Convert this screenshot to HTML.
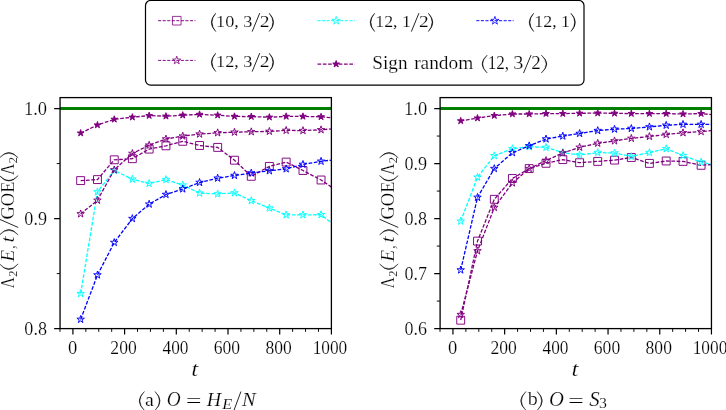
<!DOCTYPE html>
<html><head><meta charset="utf-8"><title>plot</title>
<style>
html,body{margin:0;padding:0;background:#fff;}
body{width:726px;height:410px;overflow:hidden;font-family:"Liberation Serif",serif;}
svg{display:block;position:absolute;left:0;top:0;mix-blend-mode:multiply;}
text{font-family:"Liberation Serif",serif;fill:#000;stroke:#fff;stroke-width:1.0;}
.i{font-style:italic;}
</style></head><body>
<svg width="726" height="410" viewBox="0 0 726 410">
<rect x="145.5" y="0.5" width="438.5" height="84.65" rx="5.1" ry="5.1" fill="#fff" stroke="#000" stroke-width="1.2"/>
<path d="M158.1 20.7H195.4" stroke="#800080" stroke-width="0.95" stroke-dasharray="3.1 1.45" fill="none"/><path d="M172.45 16.40h8.60v8.60h-8.60Z" fill="none" stroke="#800080" stroke-width="0.8"/>
<path d="M158.1 60.4H195.4" stroke="#800080" stroke-width="0.95" stroke-dasharray="3.1 1.45" fill="none"/><path d="M176.75 56.10 L177.72 59.07 L180.84 59.07 L178.31 60.91 L179.28 63.88 L176.75 62.04 L174.22 63.88 L175.19 60.91 L172.66 59.07 L175.78 59.07Z" fill="none" stroke="#800080" stroke-width="0.8"/>
<path d="M317.5 20.7H354.8" stroke="#00ffff" stroke-width="0.95" stroke-dasharray="3.1 1.45" fill="none"/><path d="M336.15 16.40 L337.12 19.37 L340.24 19.37 L337.71 21.21 L338.68 24.18 L336.15 22.34 L333.62 24.18 L334.59 21.21 L332.06 19.37 L335.18 19.37Z" fill="none" stroke="#00ffff" stroke-width="0.8"/>
<path d="M317.5 64.1H354.8" stroke="#800080" stroke-width="1.3" stroke-dasharray="3.7 1.6" fill="none"/><path d="M336.15 60.55 L336.95 63.00 L339.53 63.00 L337.44 64.52 L338.24 66.97 L336.15 65.46 L334.06 66.97 L334.86 64.52 L332.77 63.00 L335.35 63.00Z" fill="#800080" stroke="#800080" stroke-width="0.95"/>
<path d="M476.3 20.7H513.6" stroke="#0000ff" stroke-width="0.95" stroke-dasharray="3.1 1.45" fill="none"/><path d="M494.95 16.40 L495.92 19.37 L499.04 19.37 L496.51 21.21 L497.48 24.18 L494.95 22.34 L492.42 24.18 L493.39 21.21 L490.86 19.37 L493.98 19.37Z" fill="none" stroke="#0000ff" stroke-width="0.8"/>
<clipPath id="c0"><rect x="60.05" y="97.6" width="271.35" height="231.00000000000003"/></clipPath>
<g clip-path="url(#c0)">
<path d="M80.66 180.60 L97.46 179.60 L114.26 159.80 L132.36 158.70 L149.16 149.10 L165.96 145.80 L182.76 141.30 L199.56 145.50 L217.66 147.40 L234.46 160.20 L251.27 176.30 L269.36 166.40 L286.16 162.10 L302.97 170.50 L321.06 180.00 L337.86 191.40" fill="none" stroke="#800080" stroke-width="1.3" stroke-dasharray="3.7 1.6"/>
<path d="M76.70 176.65h7.90v7.90h-7.90ZM93.51 175.65h7.90v7.90h-7.90ZM110.31 155.85h7.90v7.90h-7.90ZM128.41 154.75h7.90v7.90h-7.90ZM145.21 145.15h7.90v7.90h-7.90ZM162.01 141.85h7.90v7.90h-7.90ZM178.81 137.35h7.90v7.90h-7.90ZM195.62 141.55h7.90v7.90h-7.90ZM213.71 143.45h7.90v7.90h-7.90ZM230.51 156.25h7.90v7.90h-7.90ZM247.32 172.35h7.90v7.90h-7.90ZM265.41 162.45h7.90v7.90h-7.90ZM282.21 158.15h7.90v7.90h-7.90ZM299.02 166.55h7.90v7.90h-7.90ZM317.11 176.05h7.90v7.90h-7.90Z" fill="none" stroke="#800080" stroke-width="0.95" stroke-linejoin="miter"/>
<path d="M80.66 293.60 L97.46 191.90 L114.26 170.50 L132.36 179.20 L149.16 183.50 L165.96 179.60 L182.76 185.10 L199.56 193.10 L217.66 193.90 L234.46 192.90 L251.27 200.70 L269.36 208.10 L286.16 214.90 L302.97 214.90 L321.06 214.70 L337.86 228.00" fill="none" stroke="#00ffff" stroke-width="1.3" stroke-dasharray="3.7 1.6"/>
<path d="M80.66 289.65 L81.54 292.38 L84.41 292.38 L82.09 294.07 L82.98 296.80 L80.66 295.11 L78.33 296.80 L79.22 294.07 L76.90 292.38 L79.77 292.38ZM97.46 187.95 L98.34 190.68 L101.21 190.68 L98.89 192.37 L99.78 195.10 L97.46 193.41 L95.14 195.10 L96.02 192.37 L93.70 190.68 L96.57 190.68ZM114.26 166.55 L115.15 169.28 L118.02 169.28 L115.69 170.97 L116.58 173.70 L114.26 172.01 L111.94 173.70 L112.83 170.97 L110.50 169.28 L113.37 169.28ZM132.36 175.25 L133.24 177.98 L136.11 177.98 L133.79 179.67 L134.68 182.40 L132.36 180.71 L130.03 182.40 L130.92 179.67 L128.60 177.98 L131.47 177.98ZM149.16 179.55 L150.04 182.28 L152.91 182.28 L150.59 183.97 L151.48 186.70 L149.16 185.01 L146.84 186.70 L147.72 183.97 L145.40 182.28 L148.27 182.28ZM165.96 175.65 L166.85 178.38 L169.72 178.38 L167.39 180.07 L168.28 182.80 L165.96 181.11 L163.64 182.80 L164.53 180.07 L162.20 178.38 L165.07 178.38ZM182.76 181.15 L183.65 183.88 L186.52 183.88 L184.20 185.57 L185.08 188.30 L182.76 186.61 L180.44 188.30 L181.33 185.57 L179.01 183.88 L181.88 183.88ZM199.56 189.15 L200.45 191.88 L203.32 191.88 L201.00 193.57 L201.89 196.30 L199.56 194.61 L197.24 196.30 L198.13 193.57 L195.81 191.88 L198.68 191.88ZM217.66 189.95 L218.55 192.68 L221.42 192.68 L219.09 194.37 L219.98 197.10 L217.66 195.41 L215.34 197.10 L216.23 194.37 L213.90 192.68 L216.77 192.68ZM234.46 188.95 L235.35 191.68 L238.22 191.68 L235.90 193.37 L236.78 196.10 L234.46 194.41 L232.14 196.10 L233.03 193.37 L230.71 191.68 L233.58 191.68ZM251.27 196.75 L252.15 199.48 L255.02 199.48 L252.70 201.17 L253.59 203.90 L251.27 202.21 L248.94 203.90 L249.83 201.17 L247.51 199.48 L250.38 199.48ZM269.36 204.15 L270.25 206.88 L273.12 206.88 L270.79 208.57 L271.68 211.30 L269.36 209.61 L267.04 211.30 L267.93 208.57 L265.60 206.88 L268.47 206.88ZM286.16 210.95 L287.05 213.68 L289.92 213.68 L287.60 215.37 L288.48 218.10 L286.16 216.41 L283.84 218.10 L284.73 215.37 L282.41 213.68 L285.28 213.68ZM302.97 210.95 L303.85 213.68 L306.72 213.68 L304.40 215.37 L305.29 218.10 L302.97 216.41 L300.64 218.10 L301.53 215.37 L299.21 213.68 L302.08 213.68ZM321.06 210.75 L321.95 213.48 L324.82 213.48 L322.49 215.17 L323.38 217.90 L321.06 216.21 L318.74 217.90 L319.63 215.17 L317.30 213.48 L320.17 213.48Z" fill="none" stroke="#00ffff" stroke-width="0.95" stroke-linejoin="miter"/>
<path d="M80.66 319.40 L97.46 275.00 L114.26 242.50 L132.36 218.60 L149.16 204.20 L165.96 194.50 L182.76 189.00 L199.56 182.50 L217.66 178.20 L234.46 175.50 L251.27 173.00 L269.36 170.80 L286.16 168.90 L302.97 164.40 L321.06 161.30 L337.86 159.40" fill="none" stroke="#0000ff" stroke-width="1.3" stroke-dasharray="3.7 1.6"/>
<path d="M80.66 315.45 L81.54 318.18 L84.41 318.18 L82.09 319.87 L82.98 322.60 L80.66 320.91 L78.33 322.60 L79.22 319.87 L76.90 318.18 L79.77 318.18ZM97.46 271.05 L98.34 273.78 L101.21 273.78 L98.89 275.47 L99.78 278.20 L97.46 276.51 L95.14 278.20 L96.02 275.47 L93.70 273.78 L96.57 273.78ZM114.26 238.55 L115.15 241.28 L118.02 241.28 L115.69 242.97 L116.58 245.70 L114.26 244.01 L111.94 245.70 L112.83 242.97 L110.50 241.28 L113.37 241.28ZM132.36 214.65 L133.24 217.38 L136.11 217.38 L133.79 219.07 L134.68 221.80 L132.36 220.11 L130.03 221.80 L130.92 219.07 L128.60 217.38 L131.47 217.38ZM149.16 200.25 L150.04 202.98 L152.91 202.98 L150.59 204.67 L151.48 207.40 L149.16 205.71 L146.84 207.40 L147.72 204.67 L145.40 202.98 L148.27 202.98ZM165.96 190.55 L166.85 193.28 L169.72 193.28 L167.39 194.97 L168.28 197.70 L165.96 196.01 L163.64 197.70 L164.53 194.97 L162.20 193.28 L165.07 193.28ZM182.76 185.05 L183.65 187.78 L186.52 187.78 L184.20 189.47 L185.08 192.20 L182.76 190.51 L180.44 192.20 L181.33 189.47 L179.01 187.78 L181.88 187.78ZM199.56 178.55 L200.45 181.28 L203.32 181.28 L201.00 182.97 L201.89 185.70 L199.56 184.01 L197.24 185.70 L198.13 182.97 L195.81 181.28 L198.68 181.28ZM217.66 174.25 L218.55 176.98 L221.42 176.98 L219.09 178.67 L219.98 181.40 L217.66 179.71 L215.34 181.40 L216.23 178.67 L213.90 176.98 L216.77 176.98ZM234.46 171.55 L235.35 174.28 L238.22 174.28 L235.90 175.97 L236.78 178.70 L234.46 177.01 L232.14 178.70 L233.03 175.97 L230.71 174.28 L233.58 174.28ZM251.27 169.05 L252.15 171.78 L255.02 171.78 L252.70 173.47 L253.59 176.20 L251.27 174.51 L248.94 176.20 L249.83 173.47 L247.51 171.78 L250.38 171.78ZM269.36 166.85 L270.25 169.58 L273.12 169.58 L270.79 171.27 L271.68 174.00 L269.36 172.31 L267.04 174.00 L267.93 171.27 L265.60 169.58 L268.47 169.58ZM286.16 164.95 L287.05 167.68 L289.92 167.68 L287.60 169.37 L288.48 172.10 L286.16 170.41 L283.84 172.10 L284.73 169.37 L282.41 167.68 L285.28 167.68ZM302.97 160.45 L303.85 163.18 L306.72 163.18 L304.40 164.87 L305.29 167.60 L302.97 165.91 L300.64 167.60 L301.53 164.87 L299.21 163.18 L302.08 163.18ZM321.06 157.35 L321.95 160.08 L324.82 160.08 L322.49 161.77 L323.38 164.50 L321.06 162.81 L318.74 164.50 L319.63 161.77 L317.30 160.08 L320.17 160.08Z" fill="none" stroke="#0000ff" stroke-width="0.95" stroke-linejoin="miter"/>
<path d="M80.66 213.90 L97.46 200.30 L114.26 169.90 L132.36 153.50 L149.16 145.20 L165.96 139.00 L182.76 136.10 L199.56 134.10 L217.66 132.80 L234.46 132.20 L251.27 131.80 L269.36 131.40 L286.16 130.40 L302.97 130.60 L321.06 129.80 L337.86 128.30" fill="none" stroke="#800080" stroke-width="1.3" stroke-dasharray="3.7 1.6"/>
<path d="M80.66 209.95 L81.54 212.68 L84.41 212.68 L82.09 214.37 L82.98 217.10 L80.66 215.41 L78.33 217.10 L79.22 214.37 L76.90 212.68 L79.77 212.68ZM97.46 196.35 L98.34 199.08 L101.21 199.08 L98.89 200.77 L99.78 203.50 L97.46 201.81 L95.14 203.50 L96.02 200.77 L93.70 199.08 L96.57 199.08ZM114.26 165.95 L115.15 168.68 L118.02 168.68 L115.69 170.37 L116.58 173.10 L114.26 171.41 L111.94 173.10 L112.83 170.37 L110.50 168.68 L113.37 168.68ZM132.36 149.55 L133.24 152.28 L136.11 152.28 L133.79 153.97 L134.68 156.70 L132.36 155.01 L130.03 156.70 L130.92 153.97 L128.60 152.28 L131.47 152.28ZM149.16 141.25 L150.04 143.98 L152.91 143.98 L150.59 145.67 L151.48 148.40 L149.16 146.71 L146.84 148.40 L147.72 145.67 L145.40 143.98 L148.27 143.98ZM165.96 135.05 L166.85 137.78 L169.72 137.78 L167.39 139.47 L168.28 142.20 L165.96 140.51 L163.64 142.20 L164.53 139.47 L162.20 137.78 L165.07 137.78ZM182.76 132.15 L183.65 134.88 L186.52 134.88 L184.20 136.57 L185.08 139.30 L182.76 137.61 L180.44 139.30 L181.33 136.57 L179.01 134.88 L181.88 134.88ZM199.56 130.15 L200.45 132.88 L203.32 132.88 L201.00 134.57 L201.89 137.30 L199.56 135.61 L197.24 137.30 L198.13 134.57 L195.81 132.88 L198.68 132.88ZM217.66 128.85 L218.55 131.58 L221.42 131.58 L219.09 133.27 L219.98 136.00 L217.66 134.31 L215.34 136.00 L216.23 133.27 L213.90 131.58 L216.77 131.58ZM234.46 128.25 L235.35 130.98 L238.22 130.98 L235.90 132.67 L236.78 135.40 L234.46 133.71 L232.14 135.40 L233.03 132.67 L230.71 130.98 L233.58 130.98ZM251.27 127.85 L252.15 130.58 L255.02 130.58 L252.70 132.27 L253.59 135.00 L251.27 133.31 L248.94 135.00 L249.83 132.27 L247.51 130.58 L250.38 130.58ZM269.36 127.45 L270.25 130.18 L273.12 130.18 L270.79 131.87 L271.68 134.60 L269.36 132.91 L267.04 134.60 L267.93 131.87 L265.60 130.18 L268.47 130.18ZM286.16 126.45 L287.05 129.18 L289.92 129.18 L287.60 130.87 L288.48 133.60 L286.16 131.91 L283.84 133.60 L284.73 130.87 L282.41 129.18 L285.28 129.18ZM302.97 126.65 L303.85 129.38 L306.72 129.38 L304.40 131.07 L305.29 133.80 L302.97 132.11 L300.64 133.80 L301.53 131.07 L299.21 129.38 L302.08 129.38ZM321.06 125.85 L321.95 128.58 L324.82 128.58 L322.49 130.27 L323.38 133.00 L321.06 131.31 L318.74 133.00 L319.63 130.27 L317.30 128.58 L320.17 128.58Z" fill="none" stroke="#800080" stroke-width="0.95" stroke-linejoin="miter"/>
<path d="M80.66 133.10 L97.46 125.00 L114.26 119.30 L132.36 117.20 L149.16 115.60 L165.96 116.20 L182.76 115.20 L199.56 114.40 L217.66 115.20 L234.46 116.40 L251.27 116.60 L269.36 117.20 L286.16 116.40 L302.97 116.40 L321.06 116.80 L337.86 118.30" fill="none" stroke="#800080" stroke-width="1.3" stroke-dasharray="3.7 1.6"/>
<path d="M80.66 129.55 L81.45 132.00 L84.03 132.00 L81.94 133.52 L82.74 135.97 L80.66 134.46 L78.57 135.97 L79.37 133.52 L77.28 132.00 L79.86 132.00ZM97.46 121.45 L98.25 123.90 L100.83 123.90 L98.75 125.42 L99.54 127.87 L97.46 126.36 L95.37 127.87 L96.17 125.42 L94.08 123.90 L96.66 123.90ZM114.26 115.75 L115.06 118.20 L117.64 118.20 L115.55 119.72 L116.35 122.17 L114.26 120.66 L112.17 122.17 L112.97 119.72 L110.88 118.20 L113.46 118.20ZM132.36 113.65 L133.15 116.10 L135.73 116.10 L133.64 117.62 L134.44 120.07 L132.36 118.56 L130.27 120.07 L131.07 117.62 L128.98 116.10 L131.56 116.10ZM149.16 112.05 L149.95 114.50 L152.53 114.50 L150.45 116.02 L151.24 118.47 L149.16 116.96 L147.07 118.47 L147.87 116.02 L145.78 114.50 L148.36 114.50ZM165.96 112.65 L166.76 115.10 L169.34 115.10 L167.25 116.62 L168.05 119.07 L165.96 117.56 L163.87 119.07 L164.67 116.62 L162.58 115.10 L165.16 115.10ZM182.76 111.65 L183.56 114.10 L186.14 114.10 L184.05 115.62 L184.85 118.07 L182.76 116.56 L180.68 118.07 L181.47 115.62 L179.39 114.10 L181.97 114.10ZM199.56 110.85 L200.36 113.30 L202.94 113.30 L200.85 114.82 L201.65 117.27 L199.56 115.76 L197.48 117.27 L198.28 114.82 L196.19 113.30 L198.77 113.30ZM217.66 111.65 L218.46 114.10 L221.04 114.10 L218.95 115.62 L219.75 118.07 L217.66 116.56 L215.57 118.07 L216.37 115.62 L214.28 114.10 L216.86 114.10ZM234.46 112.85 L235.26 115.30 L237.84 115.30 L235.75 116.82 L236.55 119.27 L234.46 117.76 L232.38 119.27 L233.17 116.82 L231.09 115.30 L233.67 115.30ZM251.27 113.05 L252.06 115.50 L254.64 115.50 L252.55 117.02 L253.35 119.47 L251.27 117.96 L249.18 119.47 L249.98 117.02 L247.89 115.50 L250.47 115.50ZM269.36 113.65 L270.16 116.10 L272.74 116.10 L270.65 117.62 L271.45 120.07 L269.36 118.56 L267.27 120.07 L268.07 117.62 L265.98 116.10 L268.56 116.10ZM286.16 112.85 L286.96 115.30 L289.54 115.30 L287.45 116.82 L288.25 119.27 L286.16 117.76 L284.08 119.27 L284.87 116.82 L282.79 115.30 L285.37 115.30ZM302.97 112.85 L303.76 115.30 L306.34 115.30 L304.25 116.82 L305.05 119.27 L302.97 117.76 L300.88 119.27 L301.68 116.82 L299.59 115.30 L302.17 115.30ZM321.06 113.25 L321.86 115.70 L324.44 115.70 L322.35 117.22 L323.15 119.67 L321.06 118.16 L318.97 119.67 L319.77 117.22 L317.68 115.70 L320.26 115.70Z" fill="#800080" stroke="#800080" stroke-width="0.95" stroke-linejoin="miter"/>
<path d="M60.05 108.55H331.40" stroke="#008000" stroke-width="3.1" fill="none"/>
</g>
<path d="M72.90 328.6v5.9M124.60 328.6v5.9M176.30 328.6v5.9M228.00 328.6v5.9M279.70 328.6v5.9M331.40 328.6v5.9" stroke="#000" stroke-width="1.2" fill="none"/>
<path d="M59.98 328.6v3.3M85.83 328.6v3.3M98.75 328.6v3.3M111.68 328.6v3.3M137.53 328.6v3.3M150.45 328.6v3.3M163.38 328.6v3.3M189.23 328.6v3.3M202.15 328.6v3.3M215.08 328.6v3.3M240.93 328.6v3.3M253.85 328.6v3.3M266.77 328.6v3.3M292.62 328.6v3.3M305.55 328.6v3.3M318.48 328.6v3.3" stroke="#000" stroke-width="0.95" fill="none"/>
<path d="M60.05 108.55h-5.9M60.05 218.57h-5.9M60.05 328.60h-5.9" stroke="#000" stroke-width="1.2" fill="none"/>
<path d="M60.05 163.56h-3.3M60.05 273.59h-3.3" stroke="#000" stroke-width="0.95" fill="none"/>
<rect x="60.05" y="97.6" width="271.35" height="231.00000000000003" fill="none" stroke="#000" stroke-width="1.3"/>
<clipPath id="c1"><rect x="440.10" y="97.6" width="271.35" height="231.00000000000003"/></clipPath>
<g clip-path="url(#c1)">
<path d="M460.71 320.20 L477.51 241.10 L494.31 199.30 L512.41 178.50 L529.21 168.60 L546.01 163.30 L562.81 159.60 L579.62 162.70 L597.71 161.40 L614.51 160.10 L631.32 157.50 L649.41 163.40 L666.21 161.00 L683.02 161.40 L701.11 165.30 L717.91 164.00" fill="none" stroke="#800080" stroke-width="1.3" stroke-dasharray="3.7 1.6"/>
<path d="M456.76 316.25h7.90v7.90h-7.90ZM473.56 237.15h7.90v7.90h-7.90ZM490.36 195.35h7.90v7.90h-7.90ZM508.46 174.55h7.90v7.90h-7.90ZM525.26 164.65h7.90v7.90h-7.90ZM542.06 159.35h7.90v7.90h-7.90ZM558.86 155.65h7.90v7.90h-7.90ZM575.66 158.75h7.90v7.90h-7.90ZM593.76 157.45h7.90v7.90h-7.90ZM610.56 156.15h7.90v7.90h-7.90ZM627.37 153.55h7.90v7.90h-7.90ZM645.46 159.45h7.90v7.90h-7.90ZM662.26 157.05h7.90v7.90h-7.90ZM679.07 157.45h7.90v7.90h-7.90ZM697.16 161.35h7.90v7.90h-7.90Z" fill="none" stroke="#800080" stroke-width="0.95" stroke-linejoin="miter"/>
<path d="M460.71 221.20 L477.51 177.20 L494.31 155.70 L512.41 148.70 L529.21 146.80 L546.01 147.40 L562.81 152.60 L579.62 155.00 L597.71 152.60 L614.51 153.00 L631.32 156.50 L649.41 152.60 L666.21 148.70 L683.02 155.60 L701.11 162.00 L717.91 166.00" fill="none" stroke="#00ffff" stroke-width="1.3" stroke-dasharray="3.7 1.6"/>
<path d="M460.71 217.25 L461.59 219.98 L464.46 219.98 L462.14 221.67 L463.03 224.40 L460.71 222.71 L458.38 224.40 L459.27 221.67 L456.95 219.98 L459.82 219.98ZM477.51 173.25 L478.39 175.98 L481.26 175.98 L478.94 177.67 L479.83 180.40 L477.51 178.71 L475.19 180.40 L476.07 177.67 L473.75 175.98 L476.62 175.98ZM494.31 151.75 L495.20 154.48 L498.07 154.48 L495.74 156.17 L496.63 158.90 L494.31 157.21 L491.99 158.90 L492.88 156.17 L490.55 154.48 L493.42 154.48ZM512.41 144.75 L513.29 147.48 L516.16 147.48 L513.84 149.17 L514.73 151.90 L512.41 150.21 L510.08 151.90 L510.97 149.17 L508.65 147.48 L511.52 147.48ZM529.21 142.85 L530.09 145.58 L532.96 145.58 L530.64 147.27 L531.53 150.00 L529.21 148.31 L526.89 150.00 L527.77 147.27 L525.45 145.58 L528.32 145.58ZM546.01 143.45 L546.90 146.18 L549.77 146.18 L547.44 147.87 L548.33 150.60 L546.01 148.91 L543.69 150.60 L544.58 147.87 L542.25 146.18 L545.12 146.18ZM562.81 148.65 L563.70 151.38 L566.57 151.38 L564.25 153.07 L565.13 155.80 L562.81 154.11 L560.49 155.80 L561.38 153.07 L559.06 151.38 L561.93 151.38ZM579.62 151.05 L580.50 153.78 L583.37 153.78 L581.05 155.47 L581.94 158.20 L579.62 156.51 L577.29 158.20 L578.18 155.47 L575.86 153.78 L578.73 153.78ZM597.71 148.65 L598.60 151.38 L601.47 151.38 L599.14 153.07 L600.03 155.80 L597.71 154.11 L595.39 155.80 L596.28 153.07 L593.95 151.38 L596.82 151.38ZM614.51 149.05 L615.40 151.78 L618.27 151.78 L615.95 153.47 L616.83 156.20 L614.51 154.51 L612.19 156.20 L613.08 153.47 L610.76 151.78 L613.63 151.78ZM631.32 152.55 L632.20 155.28 L635.07 155.28 L632.75 156.97 L633.64 159.70 L631.32 158.01 L628.99 159.70 L629.88 156.97 L627.56 155.28 L630.43 155.28ZM649.41 148.65 L650.30 151.38 L653.17 151.38 L650.84 153.07 L651.73 155.80 L649.41 154.11 L647.09 155.80 L647.98 153.07 L645.65 151.38 L648.52 151.38ZM666.21 144.75 L667.10 147.48 L669.97 147.48 L667.65 149.17 L668.53 151.90 L666.21 150.21 L663.89 151.90 L664.78 149.17 L662.46 147.48 L665.33 147.48ZM683.02 151.65 L683.90 154.38 L686.77 154.38 L684.45 156.07 L685.34 158.80 L683.02 157.11 L680.69 158.80 L681.58 156.07 L679.26 154.38 L682.13 154.38ZM701.11 158.05 L702.00 160.78 L704.87 160.78 L702.54 162.47 L703.43 165.20 L701.11 163.51 L698.79 165.20 L699.68 162.47 L697.35 160.78 L700.22 160.78Z" fill="none" stroke="#00ffff" stroke-width="0.95" stroke-linejoin="miter"/>
<path d="M460.71 270.00 L477.51 197.40 L494.31 168.60 L512.41 152.70 L529.21 145.80 L546.01 139.00 L562.81 136.10 L579.62 133.50 L597.71 130.60 L614.51 129.20 L631.32 128.50 L649.41 126.90 L666.21 125.30 L683.02 124.40 L701.11 124.40 L717.91 124.40" fill="none" stroke="#0000ff" stroke-width="1.3" stroke-dasharray="3.7 1.6"/>
<path d="M460.71 266.05 L461.59 268.78 L464.46 268.78 L462.14 270.47 L463.03 273.20 L460.71 271.51 L458.38 273.20 L459.27 270.47 L456.95 268.78 L459.82 268.78ZM477.51 193.45 L478.39 196.18 L481.26 196.18 L478.94 197.87 L479.83 200.60 L477.51 198.91 L475.19 200.60 L476.07 197.87 L473.75 196.18 L476.62 196.18ZM494.31 164.65 L495.20 167.38 L498.07 167.38 L495.74 169.07 L496.63 171.80 L494.31 170.11 L491.99 171.80 L492.88 169.07 L490.55 167.38 L493.42 167.38ZM512.41 148.75 L513.29 151.48 L516.16 151.48 L513.84 153.17 L514.73 155.90 L512.41 154.21 L510.08 155.90 L510.97 153.17 L508.65 151.48 L511.52 151.48ZM529.21 141.85 L530.09 144.58 L532.96 144.58 L530.64 146.27 L531.53 149.00 L529.21 147.31 L526.89 149.00 L527.77 146.27 L525.45 144.58 L528.32 144.58ZM546.01 135.05 L546.90 137.78 L549.77 137.78 L547.44 139.47 L548.33 142.20 L546.01 140.51 L543.69 142.20 L544.58 139.47 L542.25 137.78 L545.12 137.78ZM562.81 132.15 L563.70 134.88 L566.57 134.88 L564.25 136.57 L565.13 139.30 L562.81 137.61 L560.49 139.30 L561.38 136.57 L559.06 134.88 L561.93 134.88ZM579.62 129.55 L580.50 132.28 L583.37 132.28 L581.05 133.97 L581.94 136.70 L579.62 135.01 L577.29 136.70 L578.18 133.97 L575.86 132.28 L578.73 132.28ZM597.71 126.65 L598.60 129.38 L601.47 129.38 L599.14 131.07 L600.03 133.80 L597.71 132.11 L595.39 133.80 L596.28 131.07 L593.95 129.38 L596.82 129.38ZM614.51 125.25 L615.40 127.98 L618.27 127.98 L615.95 129.67 L616.83 132.40 L614.51 130.71 L612.19 132.40 L613.08 129.67 L610.76 127.98 L613.63 127.98ZM631.32 124.55 L632.20 127.28 L635.07 127.28 L632.75 128.97 L633.64 131.70 L631.32 130.01 L628.99 131.70 L629.88 128.97 L627.56 127.28 L630.43 127.28ZM649.41 122.95 L650.30 125.68 L653.17 125.68 L650.84 127.37 L651.73 130.10 L649.41 128.41 L647.09 130.10 L647.98 127.37 L645.65 125.68 L648.52 125.68ZM666.21 121.35 L667.10 124.08 L669.97 124.08 L667.65 125.77 L668.53 128.50 L666.21 126.81 L663.89 128.50 L664.78 125.77 L662.46 124.08 L665.33 124.08ZM683.02 120.45 L683.90 123.18 L686.77 123.18 L684.45 124.87 L685.34 127.60 L683.02 125.91 L680.69 127.60 L681.58 124.87 L679.26 123.18 L682.13 123.18ZM701.11 120.45 L702.00 123.18 L704.87 123.18 L702.54 124.87 L703.43 127.60 L701.11 125.91 L698.79 127.60 L699.68 124.87 L697.35 123.18 L700.22 123.18Z" fill="none" stroke="#0000ff" stroke-width="0.95" stroke-linejoin="miter"/>
<path d="M460.71 314.60 L477.51 250.90 L494.31 207.50 L512.41 183.00 L529.21 168.60 L546.01 160.50 L562.81 153.00 L579.62 147.30 L597.71 143.30 L614.51 140.90 L631.32 138.40 L649.41 136.50 L666.21 134.50 L683.02 132.80 L701.11 131.60 L717.91 130.00" fill="none" stroke="#800080" stroke-width="1.3" stroke-dasharray="3.7 1.6"/>
<path d="M460.71 310.65 L461.59 313.38 L464.46 313.38 L462.14 315.07 L463.03 317.80 L460.71 316.11 L458.38 317.80 L459.27 315.07 L456.95 313.38 L459.82 313.38ZM477.51 246.95 L478.39 249.68 L481.26 249.68 L478.94 251.37 L479.83 254.10 L477.51 252.41 L475.19 254.10 L476.07 251.37 L473.75 249.68 L476.62 249.68ZM494.31 203.55 L495.20 206.28 L498.07 206.28 L495.74 207.97 L496.63 210.70 L494.31 209.01 L491.99 210.70 L492.88 207.97 L490.55 206.28 L493.42 206.28ZM512.41 179.05 L513.29 181.78 L516.16 181.78 L513.84 183.47 L514.73 186.20 L512.41 184.51 L510.08 186.20 L510.97 183.47 L508.65 181.78 L511.52 181.78ZM529.21 164.65 L530.09 167.38 L532.96 167.38 L530.64 169.07 L531.53 171.80 L529.21 170.11 L526.89 171.80 L527.77 169.07 L525.45 167.38 L528.32 167.38ZM546.01 156.55 L546.90 159.28 L549.77 159.28 L547.44 160.97 L548.33 163.70 L546.01 162.01 L543.69 163.70 L544.58 160.97 L542.25 159.28 L545.12 159.28ZM562.81 149.05 L563.70 151.78 L566.57 151.78 L564.25 153.47 L565.13 156.20 L562.81 154.51 L560.49 156.20 L561.38 153.47 L559.06 151.78 L561.93 151.78ZM579.62 143.35 L580.50 146.08 L583.37 146.08 L581.05 147.77 L581.94 150.50 L579.62 148.81 L577.29 150.50 L578.18 147.77 L575.86 146.08 L578.73 146.08ZM597.71 139.35 L598.60 142.08 L601.47 142.08 L599.14 143.77 L600.03 146.50 L597.71 144.81 L595.39 146.50 L596.28 143.77 L593.95 142.08 L596.82 142.08ZM614.51 136.95 L615.40 139.68 L618.27 139.68 L615.95 141.37 L616.83 144.10 L614.51 142.41 L612.19 144.10 L613.08 141.37 L610.76 139.68 L613.63 139.68ZM631.32 134.45 L632.20 137.18 L635.07 137.18 L632.75 138.87 L633.64 141.60 L631.32 139.91 L628.99 141.60 L629.88 138.87 L627.56 137.18 L630.43 137.18ZM649.41 132.55 L650.30 135.28 L653.17 135.28 L650.84 136.97 L651.73 139.70 L649.41 138.01 L647.09 139.70 L647.98 136.97 L645.65 135.28 L648.52 135.28ZM666.21 130.55 L667.10 133.28 L669.97 133.28 L667.65 134.97 L668.53 137.70 L666.21 136.01 L663.89 137.70 L664.78 134.97 L662.46 133.28 L665.33 133.28ZM683.02 128.85 L683.90 131.58 L686.77 131.58 L684.45 133.27 L685.34 136.00 L683.02 134.31 L680.69 136.00 L681.58 133.27 L679.26 131.58 L682.13 131.58ZM701.11 127.65 L702.00 130.38 L704.87 130.38 L702.54 132.07 L703.43 134.80 L701.11 133.11 L698.79 134.80 L699.68 132.07 L697.35 130.38 L700.22 130.38Z" fill="none" stroke="#800080" stroke-width="0.95" stroke-linejoin="miter"/>
<path d="M460.71 120.90 L477.51 118.10 L494.31 115.60 L512.41 114.00 L529.21 114.00 L546.01 113.60 L562.81 113.60 L579.62 113.30 L597.71 113.10 L614.51 113.30 L631.32 113.60 L649.41 113.60 L666.21 113.60 L683.02 114.00 L701.11 113.60 L717.91 115.30" fill="none" stroke="#800080" stroke-width="1.3" stroke-dasharray="3.7 1.6"/>
<path d="M460.71 117.35 L461.50 119.80 L464.08 119.80 L461.99 121.32 L462.79 123.77 L460.71 122.26 L458.62 123.77 L459.42 121.32 L457.33 119.80 L459.91 119.80ZM477.51 114.55 L478.30 117.00 L480.88 117.00 L478.80 118.52 L479.59 120.97 L477.51 119.46 L475.42 120.97 L476.22 118.52 L474.13 117.00 L476.71 117.00ZM494.31 112.05 L495.11 114.50 L497.69 114.50 L495.60 116.02 L496.40 118.47 L494.31 116.96 L492.22 118.47 L493.02 116.02 L490.93 114.50 L493.51 114.50ZM512.41 110.45 L513.20 112.90 L515.78 112.90 L513.69 114.42 L514.49 116.87 L512.41 115.36 L510.32 116.87 L511.12 114.42 L509.03 112.90 L511.61 112.90ZM529.21 110.45 L530.00 112.90 L532.58 112.90 L530.50 114.42 L531.29 116.87 L529.21 115.36 L527.12 116.87 L527.92 114.42 L525.83 112.90 L528.41 112.90ZM546.01 110.05 L546.81 112.50 L549.39 112.50 L547.30 114.02 L548.10 116.47 L546.01 114.96 L543.92 116.47 L544.72 114.02 L542.63 112.50 L545.21 112.50ZM562.81 110.05 L563.61 112.50 L566.19 112.50 L564.10 114.02 L564.90 116.47 L562.81 114.96 L560.73 116.47 L561.52 114.02 L559.44 112.50 L562.02 112.50ZM579.62 109.75 L580.41 112.20 L582.99 112.20 L580.90 113.72 L581.70 116.17 L579.62 114.66 L577.53 116.17 L578.33 113.72 L576.24 112.20 L578.82 112.20ZM597.71 109.55 L598.51 112.00 L601.09 112.00 L599.00 113.52 L599.80 115.97 L597.71 114.46 L595.62 115.97 L596.42 113.52 L594.33 112.00 L596.91 112.00ZM614.51 109.75 L615.31 112.20 L617.89 112.20 L615.80 113.72 L616.60 116.17 L614.51 114.66 L612.43 116.17 L613.22 113.72 L611.14 112.20 L613.72 112.20ZM631.32 110.05 L632.11 112.50 L634.69 112.50 L632.60 114.02 L633.40 116.47 L631.32 114.96 L629.23 116.47 L630.03 114.02 L627.94 112.50 L630.52 112.50ZM649.41 110.05 L650.21 112.50 L652.79 112.50 L650.70 114.02 L651.50 116.47 L649.41 114.96 L647.32 116.47 L648.12 114.02 L646.03 112.50 L648.61 112.50ZM666.21 110.05 L667.01 112.50 L669.59 112.50 L667.50 114.02 L668.30 116.47 L666.21 114.96 L664.13 116.47 L664.92 114.02 L662.84 112.50 L665.42 112.50ZM683.02 110.45 L683.81 112.90 L686.39 112.90 L684.30 114.42 L685.10 116.87 L683.02 115.36 L680.93 116.87 L681.73 114.42 L679.64 112.90 L682.22 112.90ZM701.11 110.05 L701.91 112.50 L704.49 112.50 L702.40 114.02 L703.20 116.47 L701.11 114.96 L699.02 116.47 L699.82 114.02 L697.73 112.50 L700.31 112.50Z" fill="#800080" stroke="#800080" stroke-width="0.95" stroke-linejoin="miter"/>
<path d="M440.10 108.55H711.45" stroke="#008000" stroke-width="3.1" fill="none"/>
</g>
<path d="M452.95 328.6v5.9M504.65 328.6v5.9M556.35 328.6v5.9M608.05 328.6v5.9M659.75 328.6v5.9M711.45 328.6v5.9" stroke="#000" stroke-width="1.2" fill="none"/>
<path d="M440.03 328.6v3.3M465.88 328.6v3.3M478.80 328.6v3.3M491.73 328.6v3.3M517.58 328.6v3.3M530.50 328.6v3.3M543.43 328.6v3.3M569.28 328.6v3.3M582.20 328.6v3.3M595.12 328.6v3.3M620.98 328.6v3.3M633.90 328.6v3.3M646.83 328.6v3.3M672.68 328.6v3.3M685.60 328.6v3.3M698.53 328.6v3.3" stroke="#000" stroke-width="0.95" fill="none"/>
<path d="M440.10 108.55h-5.9M440.10 163.56h-5.9M440.10 218.57h-5.9M440.10 273.59h-5.9M440.10 328.60h-5.9" stroke="#000" stroke-width="1.2" fill="none"/>
<path d="M440.10 136.06h-3.3M440.10 191.07h-3.3M440.10 246.08h-3.3M440.10 301.09h-3.3" stroke="#000" stroke-width="0.95" fill="none"/>
<rect x="440.10" y="97.6" width="271.35" height="231.00000000000003" fill="none" stroke="#000" stroke-width="1.3"/>
<path d="M215.81 13.13Q206.71 22.36 215.81 31.58Q208.21 22.36 215.81 13.13Z" fill="#000" stroke="#000" stroke-width="0.4" stroke-linejoin="round"/>
<text transform="translate(216.02,27.26) scale(0.1826,0.1753)" font-size="100" xml:space="preserve">10, 3</text>
<path d="M252.16 31.58L259.71 13.13" stroke="#000" stroke-width="0.85" fill="none"/>
<text transform="translate(259.68,27.26) scale(0.1950,0.1753)" font-size="100" xml:space="preserve">2</text>
<path d="M269.11 13.13Q278.21 22.36 269.11 31.58Q276.71 22.36 269.11 13.13Z" fill="#000" stroke="#000" stroke-width="0.4" stroke-linejoin="round"/>
<path d="M215.81 53.13Q206.71 62.36 215.81 71.58Q208.21 62.36 215.81 53.13Z" fill="#000" stroke="#000" stroke-width="0.4" stroke-linejoin="round"/>
<text transform="translate(216.02,67.04) scale(0.1826,0.1753)" font-size="100" xml:space="preserve">12, 3</text>
<path d="M252.16 71.58L259.71 53.13" stroke="#000" stroke-width="0.85" fill="none"/>
<text transform="translate(259.68,67.04) scale(0.1950,0.1753)" font-size="100" xml:space="preserve">2</text>
<path d="M269.11 53.13Q278.21 62.36 269.11 71.58Q276.71 62.36 269.11 53.13Z" fill="#000" stroke="#000" stroke-width="0.4" stroke-linejoin="round"/>
<path d="M374.70 13.13Q365.56 22.36 374.70 31.58Q367.06 22.36 374.70 13.13Z" fill="#000" stroke="#000" stroke-width="0.4" stroke-linejoin="round"/>
<text transform="translate(375.29,27.26) scale(0.1784,0.1753)" font-size="100" xml:space="preserve">12, 1</text>
<path d="M411.35 31.58L418.95 13.13" stroke="#000" stroke-width="0.85" fill="none"/>
<text transform="translate(418.98,27.26) scale(0.1938,0.1753)" font-size="100" xml:space="preserve">2</text>
<path d="M428.30 13.13Q437.44 22.36 428.30 31.58Q435.94 22.36 428.30 13.13Z" fill="#000" stroke="#000" stroke-width="0.4" stroke-linejoin="round"/>
<path d="M533.75 13.13Q524.63 22.36 533.75 31.58Q526.13 22.36 533.75 13.13Z" fill="#000" stroke="#000" stroke-width="0.4" stroke-linejoin="round"/>
<text transform="translate(534.29,27.26) scale(0.1789,0.1753)" font-size="100" xml:space="preserve">12, 1</text>
<path d="M570.85 13.13Q579.97 22.36 570.85 31.58Q578.47 22.36 570.85 13.13Z" fill="#000" stroke="#000" stroke-width="0.4" stroke-linejoin="round"/>
<text transform="translate(372.25,68.50) scale(0.1924,0.1933)" font-size="100" stroke-width="0.6" xml:space="preserve">Sign</text>
<text transform="translate(414.17,68.61) scale(0.1932,0.1886)" font-size="100" stroke-width="0.6" xml:space="preserve">random</text>
<path d="M487.20 55.10Q476.92 64.05 487.20 73.00Q478.42 64.05 487.20 55.10Z" fill="#000" stroke="#000" stroke-width="0.4" stroke-linejoin="round"/>
<text transform="translate(487.65,68.70) scale(0.1717,0.1879)" font-size="100" xml:space="preserve">12,</text>
<text transform="translate(513.19,68.51) scale(0.2024,0.1851)" font-size="100" xml:space="preserve">3</text>
<path d="M523.55 73.00L531.05 55.10" stroke="#000" stroke-width="0.85" fill="none"/>
<text transform="translate(531.25,68.70) scale(0.1900,0.1879)" font-size="100" xml:space="preserve">2</text>
<path d="M541.30 55.10Q552.30 64.05 541.30 73.00Q550.80 64.05 541.30 55.10Z" fill="#000" stroke="#000" stroke-width="0.4" stroke-linejoin="round"/>
<text transform="translate(24.01,115.36) scale(0.1846,0.1926)" font-size="100" xml:space="preserve">1.0</text>
<text transform="translate(24.37,225.39) scale(0.1815,0.1926)" font-size="100" xml:space="preserve">0.9</text>
<text transform="translate(24.37,335.41) scale(0.1815,0.1926)" font-size="100" xml:space="preserve">0.8</text>
<text transform="translate(67.96,353.51) scale(0.1857,0.1911)" font-size="100" xml:space="preserve">0</text>
<text transform="translate(110.36,353.51) scale(0.1760,0.1911)" font-size="100" xml:space="preserve">200</text>
<text transform="translate(162.50,353.51) scale(0.1729,0.1911)" font-size="100" xml:space="preserve">400</text>
<text transform="translate(213.76,353.51) scale(0.1760,0.1911)" font-size="100" xml:space="preserve">600</text>
<text transform="translate(265.55,353.51) scale(0.1754,0.1911)" font-size="100" xml:space="preserve">800</text>
<text transform="translate(312.64,353.51) scale(0.1733,0.1911)" font-size="100" xml:space="preserve">1000</text>
<text transform="translate(191.33,376.05) scale(0.2504,0.2074)" font-size="100" class="i" xml:space="preserve">t</text>
<text transform="translate(14.00,287.60) rotate(-90) translate(-0.55,0.00) scale(0.1504,0.1969)" font-size="100" xml:space="preserve">Λ</text>
<text transform="translate(14.00,287.60) rotate(-90) translate(10.94,2.80) scale(0.1250,0.1288)" font-size="100" xml:space="preserve">2</text>
<path transform="translate(14.00,287.60) rotate(-90)" d="M23.70 -14.50Q12.50 -5.15 23.70 4.20Q14.00 -5.15 23.70 -14.50Z" fill="#000" stroke="#000" stroke-width="0.4" stroke-linejoin="round"/>
<text transform="translate(14.00,287.60) rotate(-90) translate(26.09,0.00) scale(0.1901,0.1969)" font-size="100" class="i" xml:space="preserve">E</text>
<text transform="translate(14.00,287.60) rotate(-90) translate(38.49,0.51) scale(0.1517,0.1725)" font-size="100" xml:space="preserve">,</text>
<text transform="translate(14.00,287.60) rotate(-90) translate(45.11,0.01) scale(0.2200,0.1912)" font-size="100" class="i" xml:space="preserve">t</text>
<path transform="translate(14.00,287.60) rotate(-90)" d="M52.70 -14.50Q63.30 -5.15 52.70 4.20Q61.80 -5.15 52.70 -14.50Z" fill="#000" stroke="#000" stroke-width="0.4" stroke-linejoin="round"/>
<path transform="translate(14.00,287.60) rotate(-90)" d="M60.15 4.20L68.35 -14.50" stroke="#000" stroke-width="0.85" fill="none"/>
<text transform="translate(14.00,287.60) rotate(-90) translate(68.16,0.00) scale(0.1842,0.1985)" font-size="100" stroke-width="0.6" xml:space="preserve">GOE</text>
<path transform="translate(14.00,287.60) rotate(-90)" d="M112.00 -14.50Q101.00 -5.15 112.00 4.20Q102.50 -5.15 112.00 -14.50Z" fill="#000" stroke="#000" stroke-width="0.4" stroke-linejoin="round"/>
<text transform="translate(14.00,287.60) rotate(-90) translate(112.64,0.00) scale(0.1560,0.1969)" font-size="100" xml:space="preserve">Λ</text>
<text transform="translate(14.00,287.60) rotate(-90) translate(124.34,2.80) scale(0.1250,0.1288)" font-size="100" xml:space="preserve">2</text>
<path transform="translate(14.00,287.60) rotate(-90)" d="M129.80 -14.50Q140.40 -5.15 129.80 4.20Q138.90 -5.15 129.80 -14.50Z" fill="#000" stroke="#000" stroke-width="0.4" stroke-linejoin="round"/>
<text transform="translate(404.06,115.36) scale(0.1846,0.1926)" font-size="100" xml:space="preserve">1.0</text>
<text transform="translate(404.42,170.37) scale(0.1815,0.1926)" font-size="100" xml:space="preserve">0.9</text>
<text transform="translate(404.42,225.39) scale(0.1815,0.1926)" font-size="100" xml:space="preserve">0.8</text>
<text transform="translate(404.43,280.40) scale(0.1800,0.1926)" font-size="100" xml:space="preserve">0.7</text>
<text transform="translate(404.43,335.41) scale(0.1800,0.1926)" font-size="100" xml:space="preserve">0.6</text>
<text transform="translate(448.01,353.51) scale(0.1857,0.1911)" font-size="100" xml:space="preserve">0</text>
<text transform="translate(490.41,353.51) scale(0.1760,0.1911)" font-size="100" xml:space="preserve">200</text>
<text transform="translate(542.55,353.51) scale(0.1729,0.1911)" font-size="100" xml:space="preserve">400</text>
<text transform="translate(593.81,353.51) scale(0.1760,0.1911)" font-size="100" xml:space="preserve">600</text>
<text transform="translate(645.60,353.51) scale(0.1754,0.1911)" font-size="100" xml:space="preserve">800</text>
<text transform="translate(692.69,353.51) scale(0.1733,0.1911)" font-size="100" xml:space="preserve">1000</text>
<text transform="translate(571.38,376.05) scale(0.2504,0.2074)" font-size="100" class="i" xml:space="preserve">t</text>
<text transform="translate(394.05,287.60) rotate(-90) translate(-0.55,0.00) scale(0.1504,0.1969)" font-size="100" xml:space="preserve">Λ</text>
<text transform="translate(394.05,287.60) rotate(-90) translate(10.94,2.80) scale(0.1250,0.1288)" font-size="100" xml:space="preserve">2</text>
<path transform="translate(394.05,287.60) rotate(-90)" d="M23.70 -14.50Q12.50 -5.15 23.70 4.20Q14.00 -5.15 23.70 -14.50Z" fill="#000" stroke="#000" stroke-width="0.4" stroke-linejoin="round"/>
<text transform="translate(394.05,287.60) rotate(-90) translate(26.09,0.00) scale(0.1901,0.1969)" font-size="100" class="i" xml:space="preserve">E</text>
<text transform="translate(394.05,287.60) rotate(-90) translate(38.49,0.51) scale(0.1517,0.1725)" font-size="100" xml:space="preserve">,</text>
<text transform="translate(394.05,287.60) rotate(-90) translate(45.11,0.01) scale(0.2200,0.1912)" font-size="100" class="i" xml:space="preserve">t</text>
<path transform="translate(394.05,287.60) rotate(-90)" d="M52.70 -14.50Q63.30 -5.15 52.70 4.20Q61.80 -5.15 52.70 -14.50Z" fill="#000" stroke="#000" stroke-width="0.4" stroke-linejoin="round"/>
<path transform="translate(394.05,287.60) rotate(-90)" d="M60.15 4.20L68.35 -14.50" stroke="#000" stroke-width="0.85" fill="none"/>
<text transform="translate(394.05,287.60) rotate(-90) translate(68.16,0.00) scale(0.1842,0.1985)" font-size="100" stroke-width="0.6" xml:space="preserve">GOE</text>
<path transform="translate(394.05,287.60) rotate(-90)" d="M112.00 -14.50Q101.00 -5.15 112.00 4.20Q102.50 -5.15 112.00 -14.50Z" fill="#000" stroke="#000" stroke-width="0.4" stroke-linejoin="round"/>
<text transform="translate(394.05,287.60) rotate(-90) translate(112.64,0.00) scale(0.1560,0.1969)" font-size="100" xml:space="preserve">Λ</text>
<text transform="translate(394.05,287.60) rotate(-90) translate(124.34,2.80) scale(0.1250,0.1288)" font-size="100" xml:space="preserve">2</text>
<path transform="translate(394.05,287.60) rotate(-90)" d="M129.80 -14.50Q140.40 -5.15 129.80 4.20Q138.90 -5.15 129.80 -14.50Z" fill="#000" stroke="#000" stroke-width="0.4" stroke-linejoin="round"/>
<path d="M144.40 391.50Q134.10 400.95 144.40 410.40Q135.60 400.95 144.40 391.50Z" fill="#000" stroke="#000" stroke-width="0.4" stroke-linejoin="round"/>
<text transform="translate(144.90,405.62) scale(0.2000,0.1842)" font-size="100" xml:space="preserve">a</text>
<path d="M155.00 391.50Q165.20 400.95 155.00 410.40Q163.70 400.95 155.00 391.50Z" fill="#000" stroke="#000" stroke-width="0.4" stroke-linejoin="round"/>
<text transform="translate(166.84,405.79) scale(0.1923,0.2060)" font-size="100" class="i" xml:space="preserve">O</text>
<text transform="translate(185.70,407.09) scale(0.2796,0.1800)" font-size="100" stroke-width="0" xml:space="preserve">=</text>
<text transform="translate(206.80,405.70) scale(0.1987,0.1954)" font-size="100" class="i" xml:space="preserve">H</text>
<text transform="translate(222.36,408.60) scale(0.1636,0.1420)" font-size="100" class="i" xml:space="preserve">E</text>
<path d="M233.95 410.40L240.95 391.50" stroke="#000" stroke-width="0.85" fill="none"/>
<text transform="translate(242.10,405.70) scale(0.2056,0.1969)" font-size="100" class="i" xml:space="preserve">N</text>
<path d="M526.00 391.50Q515.40 400.95 526.00 410.40Q516.90 400.95 526.00 391.50Z" fill="#000" stroke="#000" stroke-width="0.4" stroke-linejoin="round"/>
<text transform="translate(527.80,405.31) scale(0.2000,0.1943)" font-size="100" xml:space="preserve">b</text>
<path d="M537.20 391.50Q547.40 400.95 537.20 410.40Q545.90 400.95 537.20 391.50Z" fill="#000" stroke="#000" stroke-width="0.4" stroke-linejoin="round"/>
<text transform="translate(549.07,405.70) scale(0.2062,0.2045)" font-size="100" class="i" xml:space="preserve">O</text>
<text transform="translate(567.99,407.09) scale(0.2817,0.1800)" font-size="100" stroke-width="0" xml:space="preserve">=</text>
<text transform="translate(589.19,405.70) scale(0.2084,0.2045)" font-size="100" class="i" xml:space="preserve">S</text>
<text transform="translate(598.91,408.45) scale(0.1585,0.1463)" font-size="100" xml:space="preserve">3</text>
</svg></body></html>
